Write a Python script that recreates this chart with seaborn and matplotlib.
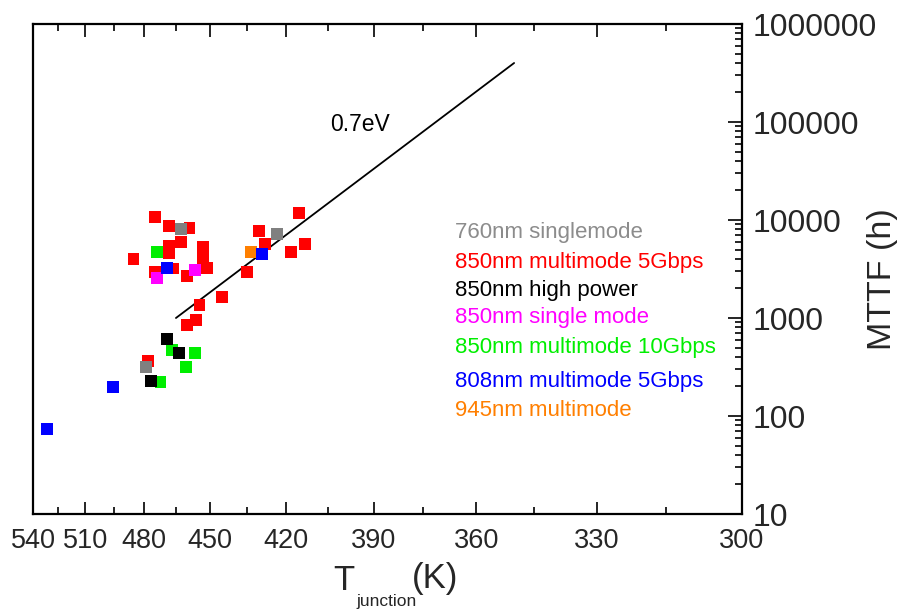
import numpy as np
import pandas as pd
import matplotlib
matplotlib.use("Agg")
import matplotlib.pyplot as plt
import seaborn as sns
from matplotlib.ticker import FixedLocator, FixedFormatter, NullFormatter

# ---------------- data ----------------
groups = ["850nm multimode 5Gbps", "850nm multimode 10Gbps", "850nm high power",
          "760nm singlemode", "850nm single mode", "945nm multimode",
          "808nm multimode 5Gbps"]

red_T = [474.7, 468.0, 459.0, 462.7, 468.0, 468.0, 453.2, 453.2, 485.0, 474.7,
         466.5, 460.2, 451.3, 445.2, 454.6, 456.1, 460.2, 477.8, 415.2, 430.2,
         428.0, 418.2, 413.2, 435.1]
red_M = [10800, 8690, 8230, 5920, 5470, 4570, 5300, 4100, 4000, 2930,
         3200, 2700, 3215, 1650, 1350, 954, 854, 362, 11700, 7780,
         5700, 4750, 5650, 2970]

green_T = [473.6, 466.9, 456.6, 460.6, 472.1]
green_M = [4750, 468, 443, 318, 222]

black_T = [469.1, 463.6, 476.7]
black_M = [610, 443, 228]

gray_T = [462.7, 423.4, 478.9]
gray_M = [8040, 7200, 318]

magenta_T = [473.6, 456.5]
magenta_M = [2580, 3070]

orange_T = [433.4]
orange_M = [4750]

blue_T = [469.1, 429.1, 495.1, 531.4]
blue_M = [3215, 4500, 199, 73.7]

fit_T = [465.0, 350.0]
fit_M = [1000, 400000]
fit_label = "0.7eV"

x_ticks = [540, 510, 480, 450, 420, 390, 360, 330, 300]
x_minor = [525, 495, 465, 435, 405, 375, 345, 315]
y_ticks = [10, 100, 1000, 10000, 100000, 1000000]
y_ticklabels = ["10", "100", "1000", "10000", "100000", "1000000"]

xlabel_main, xlabel_sub, xlabel_unit = "T", "junction", "(K)"
ylabel = "MTTF (h)"

legend_order = ["760nm singlemode", "850nm multimode 5Gbps", "850nm high power",
                "850nm single mode", "850nm multimode 10Gbps",
                "808nm multimode 5Gbps", "945nm multimode"]
legend_y = [0.5755, 0.514, 0.457, 0.400, 0.339, 0.271, 0.212]

colors = {"760nm singlemode": "#808080",
          "850nm multimode 5Gbps": "#ff0000",
          "850nm high power": "#000000",
          "850nm single mode": "#ff00ff",
          "850nm multimode 10Gbps": "#00ee00",
          "808nm multimode 5Gbps": "#0000ff",
          "945nm multimode": "#ff7f00"}
text_colors = dict(colors)
text_colors["760nm singlemode"] = "#8c8c8c"

series = {"850nm multimode 5Gbps": (red_T, red_M),
          "850nm multimode 10Gbps": (green_T, green_M),
          "850nm high power": (black_T, black_M),
          "760nm singlemode": (gray_T, gray_M),
          "850nm single mode": (magenta_T, magenta_M),
          "945nm multimode": (orange_T, orange_M),
          "808nm multimode 5Gbps": (blue_T, blue_M)}

rows = []
for g in groups:
    T, M = series[g]
    for t, m in zip(T, M):
        rows.append({"T": t, "MTTF": m, "type": g})
df = pd.DataFrame(rows)
fit_df = pd.DataFrame({"T": fit_T, "MTTF": fit_M})

# ---------------- figure ----------------
sns.set_theme(style="white")
plt.rcParams["font.family"] = ["Liberation Sans", "DejaVu Sans"]

W, H = 901, 616
fig = plt.figure(figsize=(W / 100, H / 100), dpi=100)
ax = fig.add_axes([33 / W, 102 / H, 709 / W, 490 / H])


def fwd(t):
    # Arrhenius axis: linear in -1000/T (monotonic increasing in T)
    t = np.asarray(t, dtype=float)
    with np.errstate(divide="ignore", invalid="ignore"):
        return -1000.0 / t


ax.set_xscale("function", functions=(fwd, fwd))
ax.set_yscale("log")

sns.lineplot(data=fit_df, x="T", y="MTTF", color="black", linewidth=1.3,
             ax=ax, legend=False)
sns.scatterplot(data=df, x="T", y="MTTF", hue="type", palette=colors,
                marker="s", s=72, linewidth=0, ax=ax, legend=False, zorder=3)

ax.set_xlim(540, 300)
ax.set_ylim(10, 1000000)

ax.xaxis.set_major_locator(FixedLocator(x_ticks))
ax.xaxis.set_major_formatter(FixedFormatter([str(v) for v in x_ticks]))
ax.xaxis.set_minor_locator(FixedLocator(x_minor))
ax.xaxis.set_minor_formatter(NullFormatter())

ax.yaxis.tick_right()
ax.yaxis.set_major_locator(FixedLocator(y_ticks))
ax.yaxis.set_major_formatter(FixedFormatter(y_ticklabels))
ax.yaxis.set_minor_formatter(NullFormatter())

ax.tick_params(axis="x", which="both", direction="in", top=True, bottom=True,
               color="black", width=1.2)
ax.tick_params(axis="x", which="major", length=9, labelsize=19.5, pad=10)
ax.tick_params(axis="x", which="minor", length=5)
ax.tick_params(axis="y", which="both", direction="in", left=False, right=True,
               color="black", width=1.2)
ax.tick_params(axis="y", which="major", length=10, labelsize=23, pad=8)
ax.tick_params(axis="y", which="minor", length=5)

for sp in ax.spines.values():
    sp.set_color("black")
    sp.set_linewidth(1.6)

ax.set_xlabel("")
ax.set_ylabel(ylabel, fontsize=24.5)
ax.yaxis.set_label_position("right")
ax.yaxis.set_label_coords(1.176, 0.48)

# x axis title: T with a deep subscript, placed in pixel coordinates
fig.text(333 / W, 1 - 564 / H, xlabel_main, fontsize=25, ha="left", va="top")
fig.text(356 / W, 1 - 606 / H, xlabel_sub, fontsize=12.5, ha="left", va="baseline")
fig.text(412 / W, 1 - 562 / H, xlabel_unit, fontsize=25, ha="left", va="top")

ax.text(0.419, 0.794, fit_label, transform=ax.transAxes, fontsize=16.5,
        ha="left", va="center", color="black")

for name, yy in zip(legend_order, legend_y):
    ax.text(0.595, yy, name, transform=ax.transAxes, fontsize=16,
            ha="left", va="center", color=text_colors[name])

fig.savefig("out.png", dpi=100)
